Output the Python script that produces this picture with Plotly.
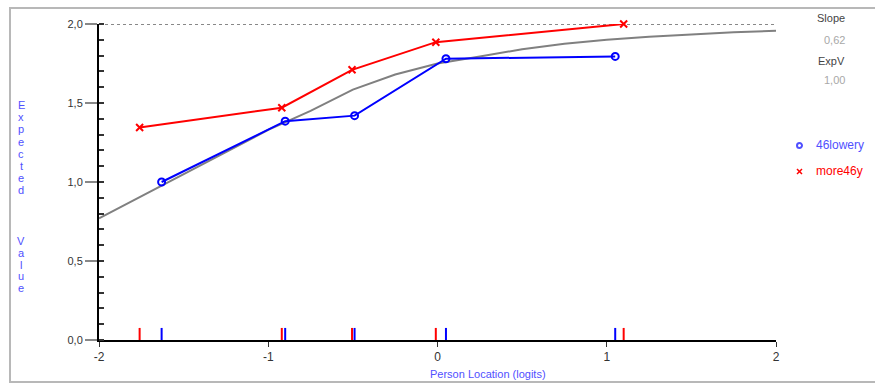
import plotly.graph_objects as go

# ---------------- data ----------------
blue_name = "46lowery"   # shown truncated at the window edge in the reference
red_name = "more46y"
blue_x = [-1.63, -0.90, -0.49, 0.05, 1.05]
blue_y = [1.00, 1.385, 1.42, 1.78, 1.795]
red_x = [-1.76, -0.92, -0.505, -0.01, 1.10]
red_y = [1.345, 1.47, 1.71, 1.885, 2.00]
curve_x = [-2.0, -1.75, -1.5, -1.25, -1.0, -0.75, -0.5, -0.25, 0.0,
           0.25, 0.5, 0.75, 1.0, 1.25, 1.5, 1.75, 2.0]
curve_y = [0.77, 0.91, 1.05, 1.19, 1.33, 1.45, 1.585, 1.68, 1.75,
           1.795, 1.84, 1.875, 1.90, 1.92, 1.935, 1.948, 1.957]
x_ticks = [-2, -1, 0, 1, 2]
y_ticks = [0.0, 0.5, 1.0, 1.5, 2.0]
y_ticktext = ["0,0", "0,5", "1,0", "1,5", "2,0"]
slope_txt = "0,62"
expv_txt = "1,00"

# ---------------- layout geometry ----------------
W, H = 875, 383
L, R, T, B = 99, 99, 24, 43
PW, PH = W - L - R, H - T - B


def px(x):
    return (x - L) / PW


def py(y):
    return (H - B - y) / PH


BLUE = "#0000ff"
RED = "#ff0000"
GREY = "#808080"
LBLUE = "#5050ff"
FONT = "Liberation Sans"

fig = go.Figure()

# expected value curve
fig.add_trace(go.Scatter(x=curve_x, y=curve_y, mode="lines",
                         line=dict(color=GREY, width=2), cliponaxis=False,
                         showlegend=False, hoverinfo="skip"))

# rug ticks
fig.add_trace(go.Scatter(x=blue_x, y=[0.032] * len(blue_x), mode="markers",
                         marker=dict(symbol="line-ns-open", size=10, color=BLUE,
                                     line=dict(color=BLUE, width=2)),
                         cliponaxis=False, showlegend=False))
fig.add_trace(go.Scatter(x=red_x, y=[0.032] * len(red_x), mode="markers",
                         marker=dict(symbol="line-ns-open", size=10, color=RED,
                                     line=dict(color=RED, width=2)),
                         cliponaxis=False, showlegend=False))

# observed class intervals
fig.add_trace(go.Scatter(x=blue_x, y=blue_y, mode="lines+markers", name=blue_name,
                         line=dict(color=BLUE, width=2),
                         marker=dict(symbol="circle-open", size=7, color=BLUE,
                                     line=dict(color=BLUE, width=2)),
                         cliponaxis=False, showlegend=False))
fig.add_trace(go.Scatter(x=red_x, y=red_y, mode="lines+markers", name=red_name,
                         line=dict(color=RED, width=2),
                         marker=dict(symbol="x-thin-open", size=7, color=RED,
                                     line=dict(color=RED, width=2)),
                         cliponaxis=False, showlegend=False))

shapes = []
# outer frame
shapes.append(dict(type="rect", xref="paper", yref="paper",
                   x0=px(10), x1=px(890), y0=py(382), y1=py(8),
                   line=dict(color="#b8b8b8", width=2), layer="below"))
# dotted max line
shapes.append(dict(type="line", xref="x", yref="y", x0=-2, x1=2, y0=2, y1=2,
                   line=dict(color="#888888", width=2, dash="dot"), layer="below"))
# legend markers
shapes.append(dict(type="circle", xref="paper", yref="paper",
                   x0=px(797), x1=px(802), y0=py(148), y1=py(143),
                   line=dict(color=LBLUE, width=2)))
shapes.append(dict(type="line", xref="paper", yref="paper",
                   x0=px(797), x1=px(802), y0=py(174), y1=py(169),
                   line=dict(color=RED, width=1.5)))
shapes.append(dict(type="line", xref="paper", yref="paper",
                   x0=px(797), x1=px(802), y0=py(169), y1=py(174),
                   line=dict(color=RED, width=1.5)))

annotations = []


def txt(x, y, s, color, size=11, xanchor="center"):
    annotations.append(dict(x=px(x), y=py(y), xref="paper", yref="paper", text=s,
                            showarrow=False, xanchor=xanchor, yanchor="middle",
                            font=dict(family=FONT, size=size, color=color)))


txt(847, 18, "Slope", "#444444", xanchor="right")
txt(847, 40, slope_txt, "#a8a8a8", xanchor="right")
txt(847, 61, "ExpV", "#444444", xanchor="right")
txt(847, 80, expv_txt, "#a8a8a8", xanchor="right")
txt(814, 145, blue_name, LBLUE, size=12, xanchor="left")
txt(814, 171, red_name, RED, size=12, xanchor="left")
txt(488, 374, "Person Location (logits)", LBLUE)

# stacked vertical y title
for i, ch in enumerate("Expected"):
    txt(21, 105 + i * 12.2, ch, LBLUE)
for i, ch in enumerate("Value"):
    txt(21, 241 + i * 11.8, ch, LBLUE)

fig.update_layout(
    width=W, height=H,
    margin=dict(l=L, r=R, t=T, b=B, pad=0),
    paper_bgcolor="white", plot_bgcolor="white",
    showlegend=False,
    shapes=shapes, annotations=annotations,
    font=dict(family=FONT, size=11, color="#333333"),
    xaxis=dict(range=[-2, 2], tickvals=x_ticks, ticktext=[str(v) for v in x_ticks],
               showgrid=False, zeroline=False, showline=True, linecolor="black",
               linewidth=2, ticks="outside", ticklen=5, tickcolor="#333333",
               tickfont=dict(family=FONT, size=12, color="#333333"), fixedrange=True),
    yaxis=dict(range=[0, 2], tickvals=y_ticks, ticktext=y_ticktext,
               showgrid=False, zeroline=False, showline=True, linecolor="black",
               linewidth=2, ticks="outside", ticklen=12, tickcolor="#888888",
               tickwidth=1.5,
               tickfont=dict(family=FONT, size=11, color="#333333"),
               minor=dict(dtick=0.1, ticks="inside", ticklen=5, tickcolor="#333333",
                          tickwidth=2, showgrid=False),
               fixedrange=True),
)

fig.write_html("out.html")
